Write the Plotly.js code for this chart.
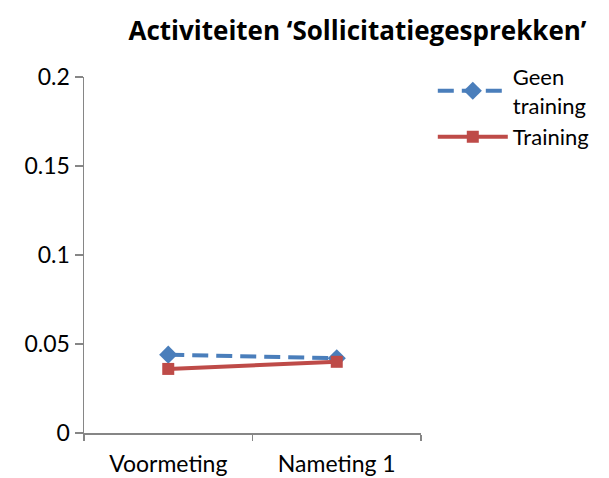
<!DOCTYPE html>
<html>
<head>
<meta charset="utf-8">
<script src="https://cdn.plot.ly/plotly-3.0.1.min.js"></script>
<style>html,body{margin:0;padding:0;background:#fff;}#chart{width:609px;height:478px;}</style>
</head>
<body>
<div id="chart"></div>
<script>
var categories = ["Voormeting", "Nameting 1"];
var geenTraining = [0.044, 0.042];
var training = [0.036, 0.040];
var yTickVals = [0, 0.05, 0.1, 0.15, 0.2];
var yTickText = ["0", "0.05", "0.1", "0.15", "0.2"];

var FONT = "Lato, 'Open Sans', sans-serif";

var traces = [
  {
    x: categories, y: geenTraining, name: "Geen<br>training", type: "scatter", mode: "lines+markers",
    line: {color: "#4A7EBB", width: 4, dash: "16px,8px"},
    marker: {symbol: "diamond", size: 14, color: "#4A7EBB"}
  },
  {
    x: categories, y: training, name: "Training", type: "scatter", mode: "lines+markers",
    line: {color: "#BE4B48", width: 4},
    marker: {symbol: "square", size: 12, color: "#BE4B48"}
  }
];

var layout = {
  width: 609, height: 478,
  margin: {l: 84, r: 188, t: 77, b: 45},
  paper_bgcolor: "#fff", plot_bgcolor: "#fff",
  font: {family: FONT, size: 23, color: "#000"},
  title: {text: "<b>Activiteiten ‘Sollicitatiegesprekken’</b>", x: 0.587, xanchor: "center", y: 0.935, yanchor: "middle", font: {family: "'Open Sans', sans-serif", size: 26, color: "#000"}},
  xaxis: {
    type: "category", range: [-0.5, 1.5], tickson: "boundaries",
    showline: true, linecolor: "#868686", linewidth: 1.5,
    ticks: "outside", ticklen: 6, tickcolor: "#868686", tickwidth: 1.5,
    ticklabelstandoff: 10,
    showgrid: false, zeroline: false, fixedrange: true,
    tickfont: {family: FONT, size: 23}
  },
  yaxis: {
    range: [0, 0.2], tickvals: yTickVals, ticktext: yTickText,
    showline: true, linecolor: "#868686", linewidth: 1.5,
    ticks: "outside", ticklen: 8, tickcolor: "#868686", tickwidth: 1.5,
    showgrid: false, zeroline: false, fixedrange: true,
    tickfont: {family: FONT, size: 23}
  },
  legend: {x: 1.035, xanchor: "left", y: 1.06, yanchor: "top", font: {family: FONT, size: 22}, tracegroupgap: 0, itemwidth: 70, borderwidth: 0, bgcolor: "rgba(0,0,0,0)"},
  showlegend: true
};

Plotly.newPlot("chart", traces, layout, {displayModeBar: false, staticPlot: true});
</script>
</body>
</html>
